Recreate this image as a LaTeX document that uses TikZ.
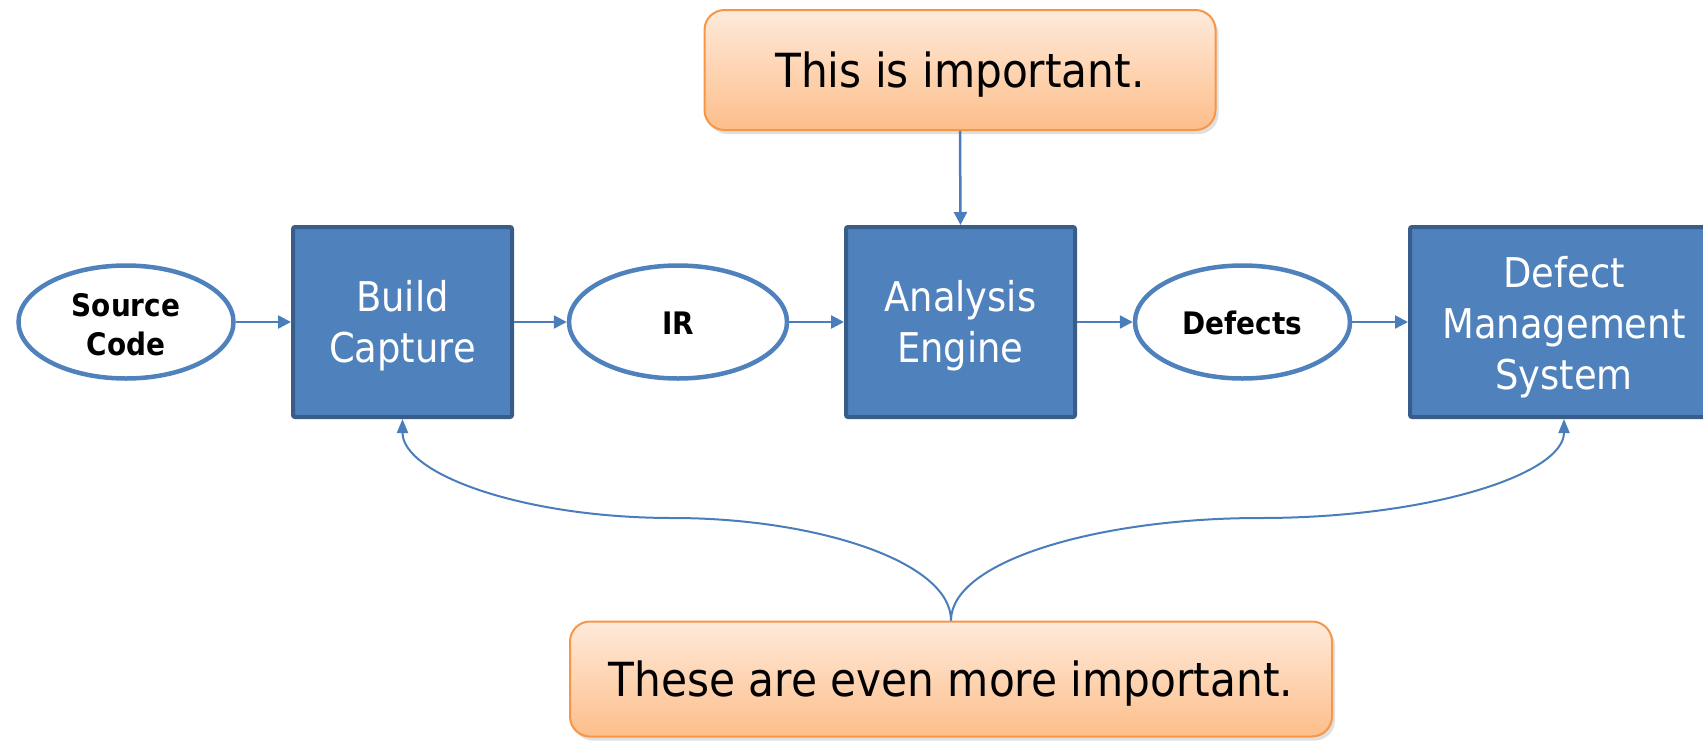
\documentclass[tikz,border=0pt]{standalone}
\usepackage{fontspec}
\setmainfont{DejaVu Sans Condensed}
\usetikzlibrary{arrows.meta,shapes.geometric,shadows}

\definecolor{boxfill}{HTML}{4F81BD}
\definecolor{boxline}{HTML}{385D8A}
\definecolor{linkblue}{HTML}{4A7EBB}
\definecolor{noteline}{HTML}{F79646}
\definecolor{notetop}{HTML}{FEEADB}
\definecolor{notebottom}{HTML}{FDBE8A}

% centred lines of text, set a little lower than the box centre
\newcommand\dropped[2]{\raisebox{-#1}[\height][\depth]{\begin{tabular}{@{}c@{}}#2\end{tabular}}}

\begin{document}
\begin{tikzpicture}[x=1pt,y=-1pt,
  stage/.style={rectangle, rounded corners=2pt, draw=boxline, line width=4pt,
    fill=boxfill, text=white, inner sep=0pt,
    font=\fontsize{41}{51}\selectfont, minimum height=190pt},
  artifact/.style={ellipse, draw=boxfill, line width=4.5pt, fill=white,
    inner sep=0pt, font=\bfseries\fontsize{31}{39}\selectfont,
    minimum width=215pt, minimum height=113pt},
  note/.style={rectangle, rounded corners=20pt, draw=noteline, line width=2pt,
    top color=notetop, bottom color=notebottom, inner sep=0pt,
    font=\fontsize{47}{56}\selectfont,
    drop shadow={shadow xshift=3pt, shadow yshift=-4pt, opacity=0.25}},
  flow/.style={draw=linkblue, line width=2.5pt, -{Triangle[length=13pt,width=13pt]}},
  hint/.style={draw=linkblue, line width=2pt, -{Triangle[length=14pt,width=11pt]}}
]
\useasboundingbox (0,0) rectangle (1703,740);
\clip (0,0) rectangle (1703,740);

% pipeline stages and their artifacts
\node[artifact] (src) at (126,322) {\dropped{6pt}{Source\\Code}};
\node[stage, minimum width=219pt] (build) at (402.5,322) {\dropped{5pt}{Build\\Capture}};
\node[artifact, minimum width=218pt] (ir) at (678,322) {\dropped{4.5pt}{IR}};
\node[stage, minimum width=229pt] (engine) at (960.5,322) {\dropped{5pt}{Analysis\\Engine}};
\node[artifact] (defects) at (1242.5,322) {\dropped{4.5pt}{Defects}};
\node[stage, minimum width=308pt] (dms) at (1564,322) {\dropped{6pt}{Defect\\Management\\System}};

% callouts
\node[note, minimum width=511pt, minimum height=120pt] (top) at (960,70) {\dropped{6pt}{This is important.}};
\node[note, minimum width=762pt, minimum height=115pt] (bottom) at (951,679) {\dropped{6pt}{These are even more important.}};

% data flow
\draw[flow] (src) -- (build);
\draw[flow] (build) -- (ir);
\draw[flow] (ir) -- (engine);
\draw[flow] (engine) -- (defects);
\draw[flow] (defects) -- (dms);
\draw[flow] (top.south) -- (engine.north);

% brace-like pointers from the lower callout
\coordinate (lbend) at (673,518);
\coordinate (rbend) at (1260,518);
\draw[hint] (bottom.north) .. controls +(0,-60) and +(140,0) .. (lbend)
  .. controls +(-150,0) and +(0,55) .. (build.south);
\draw[hint] (bottom.north) .. controls +(0,-60) and +(-160,0) .. (rbend)
  .. controls +(170,0) and +(0,55) .. (dms.south);
\end{tikzpicture}
\end{document}
